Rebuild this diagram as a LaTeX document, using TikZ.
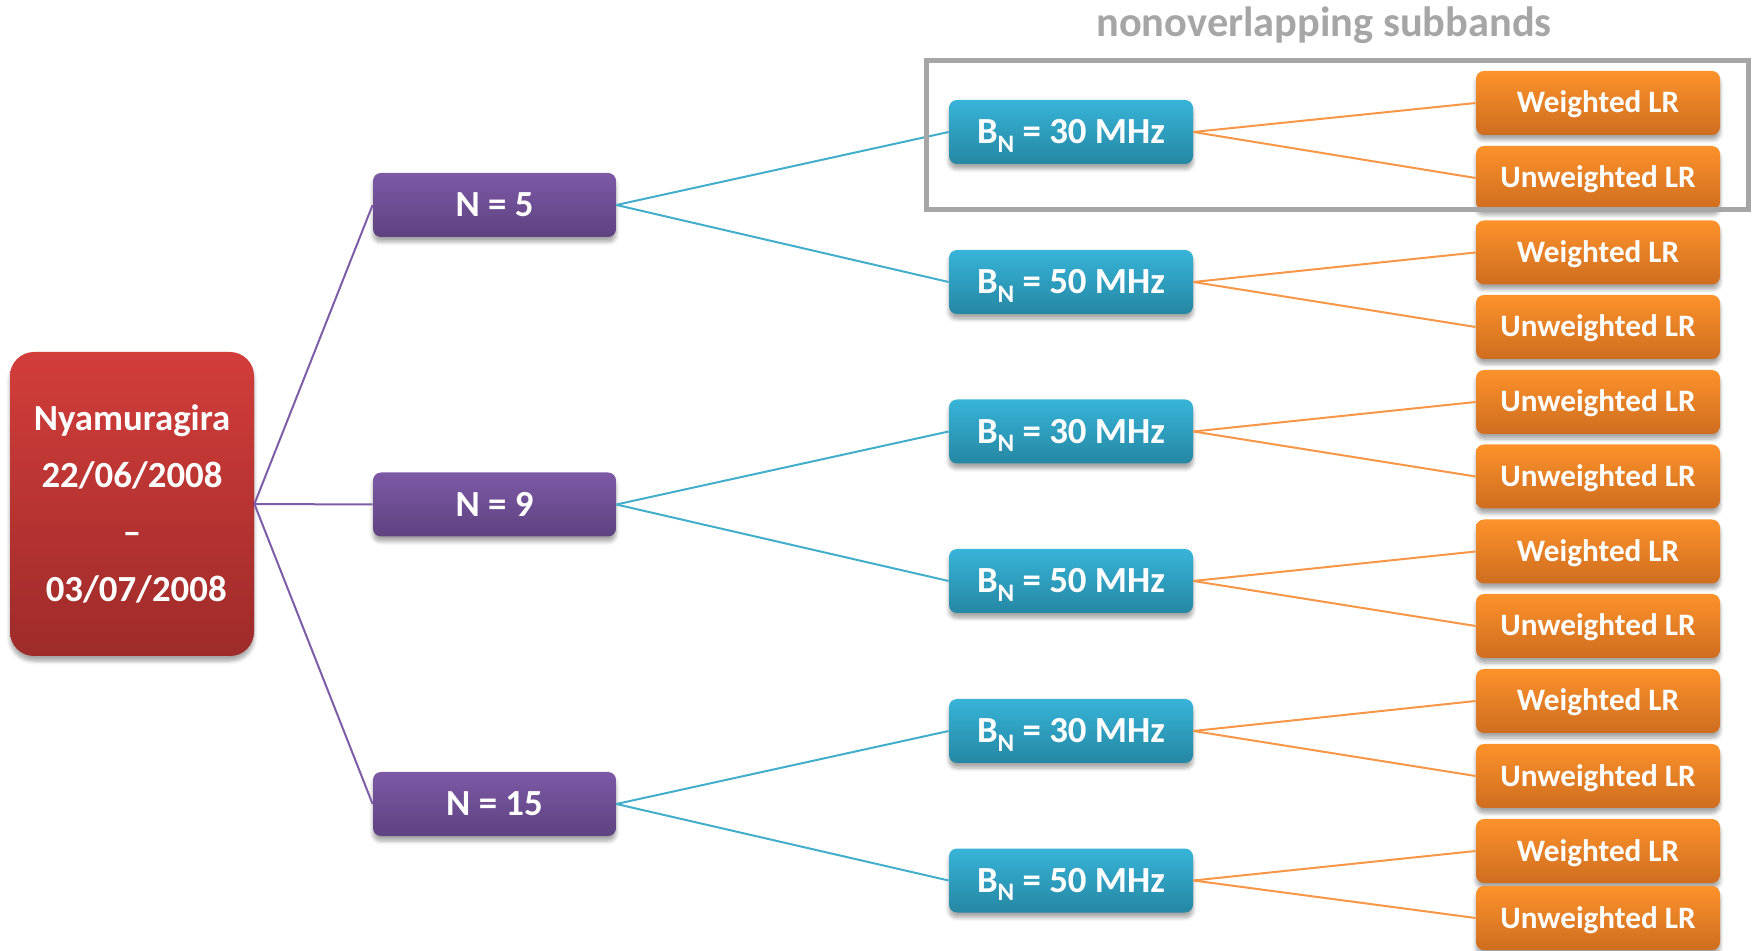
\documentclass[tikz,border=0pt]{standalone}
\usepackage{fontspec}
\setmainfont{Carlito}
\usetikzlibrary{shadows,shadows.blur}

\definecolor{rootTop}{HTML}{D23D3A}
\definecolor{rootBot}{HTML}{9E2B2A}
\definecolor{nTop}{HTML}{7D59A6}
\definecolor{nBot}{HTML}{5E4280}
\definecolor{bTop}{HTML}{37B4D8}
\definecolor{bBot}{HTML}{2587A3}
\definecolor{lrTop}{HTML}{FC922B}
\definecolor{lrBot}{HTML}{CF6D1F}
\definecolor{nLine}{HTML}{7E5DA8}
\definecolor{bLine}{HTML}{42AECB}
\definecolor{lrLine}{HTML}{F79646}
\definecolor{frameGray}{HTML}{A6A6A6}

\newcommand{\bandsub}{B\raisebox{-4.3pt}{\fontsize{12.6}{13}\selectfont N}}

\begin{document}
\begin{tikzpicture}[x=0.5pt,y=-0.5pt,
  box/.style={text=white,inner sep=0pt,rounded corners=4pt,
    blur shadow={shadow xshift=0pt,shadow yshift=-2.5pt,shadow blur steps=6,shadow opacity=35}},
  rootbox/.style={box,top color=rootTop,bottom color=rootBot,minimum width=122pt,minimum height=152pt,
    rounded corners=12pt,align=center,font=\bfseries\fontsize{18.4}{28.5}\selectfont},
  nbox/.style={box,top color=nTop,bottom color=nBot,minimum width=121.5pt,minimum height=32pt,
    text height=11.85pt,text depth=0pt,font=\bfseries\fontsize{18.4}{22}\selectfont},
  bandbox/.style={box,top color=bTop,bottom color=bBot,minimum width=122pt,minimum height=32pt,
    text height=11.85pt,text depth=0pt,font=\bfseries\fontsize{18.4}{22}\selectfont},
  lrbox/.style={box,top color=lrTop,bottom color=lrBot,minimum width=122pt,minimum height=32pt,
    text height=10pt,text depth=0pt,font=\bfseries\fontsize{15.6}{19}\selectfont},
  nline/.style={draw=nLine,line width=1pt},
  bline/.style={draw=bLine,line width=1pt},
  lrline/.style={draw=lrLine,line width=1pt}]
  \useasboundingbox (0,0) rectangle (1752,951);

  \node[rootbox] (root) at (132,504) {Nyamuragira\\22/06/2008\\--\\\hspace*{4.2pt}03/07/2008};

  \node[nbox] (n5) at (494.5,205) {N = 5};
  \node[nbox] (n9) at (494.5,504.5) {N = 9};
  \node[nbox] (n15) at (494.5,804) {N = 15};

  \node[bandbox] (b30a) at (1071,132) {\bandsub{} = 30 MHz};
  \node[bandbox] (b50a) at (1071,282) {\bandsub{} = 50 MHz};
  \node[bandbox] (b30b) at (1071,431.5) {\bandsub{} = 30 MHz};
  \node[bandbox] (b50b) at (1071,581) {\bandsub{} = 50 MHz};
  \node[bandbox] (b30c) at (1071,731) {\bandsub{} = 30 MHz};
  \node[bandbox] (b50c) at (1071,880.5) {\bandsub{} = 50 MHz};

  \node[lrbox] (lr1) at (1598,103) {Weighted LR};
  \node[lrbox] (lr2) at (1598,178) {Unweighted LR};
  \node[lrbox] (lr3) at (1598,252.5) {Weighted LR};
  \node[lrbox] (lr4) at (1598,327) {Unweighted LR};
  \node[lrbox] (lr5) at (1598,402) {Unweighted LR};
  \node[lrbox] (lr6) at (1598,476.5) {Unweighted LR};
  \node[lrbox] (lr7) at (1598,551.5) {Weighted LR};
  \node[lrbox] (lr8) at (1598,626) {Unweighted LR};
  \node[lrbox] (lr9) at (1598,701) {Weighted LR};
  \node[lrbox] (lr10) at (1598,776) {Unweighted LR};
  \node[lrbox] (lr11) at (1598,851) {Weighted LR};
  \node[lrbox] (lr12) at (1598,918) {Unweighted LR};

  \path (root.east) edge[nline] (n5.west);
  \path (root.east) edge[nline] (n9.west);
  \path (root.east) edge[nline] (n15.west);

  \path (n5.east) edge[bline] (b30a.west);
  \path (n5.east) edge[bline] (b50a.west);
  \path (n9.east) edge[bline] (b30b.west);
  \path (n9.east) edge[bline] (b50b.west);
  \path (n15.east) edge[bline] (b30c.west);
  \path (n15.east) edge[bline] (b50c.west);

  \path (b30a.east) edge[lrline] (lr1.west);
  \path (b30a.east) edge[lrline] (lr2.west);
  \path (b50a.east) edge[lrline] (lr3.west);
  \path (b50a.east) edge[lrline] (lr4.west);
  \path (b30b.east) edge[lrline] (lr5.west);
  \path (b30b.east) edge[lrline] (lr6.west);
  \path (b50b.east) edge[lrline] (lr7.west);
  \path (b50b.east) edge[lrline] (lr8.west);
  \path (b30c.east) edge[lrline] (lr9.west);
  \path (b30c.east) edge[lrline] (lr10.west);
  \path (b50c.east) edge[lrline] (lr11.west);
  \path (b50c.east) edge[lrline] (lr12.west);

  % grey frame round the first subband
  \draw[frameGray,line width=2.5pt] (926,61) rectangle (1748,210);
  \node[text=frameGray,font=\bfseries\fontsize{21.2}{25}\selectfont] (title) at (1324,25) {nonoverlapping subbands};
\end{tikzpicture}
\end{document}
